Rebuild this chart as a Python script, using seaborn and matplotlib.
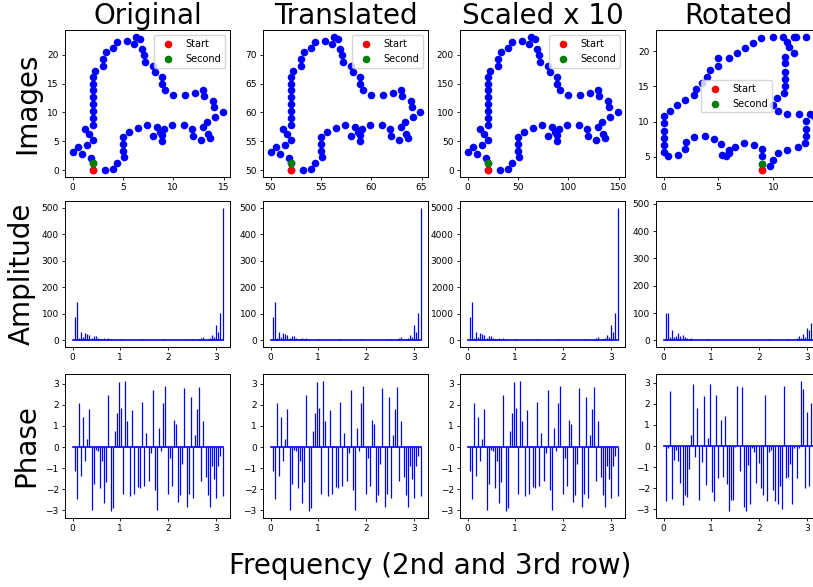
import numpy as np
import matplotlib
matplotlib.use("Agg")
import matplotlib.pyplot as plt
import seaborn as sns

# ---------------- data ----------------
titles = ["Original", "Translated", "Scaled x 10", "Rotated"]
row_labels = ["Images", "Amplitude", "Phase"]

orig_x = [2.0, 2.0, 1.8, 0.96, 0.0, 0.5, 1.4, 2.0, 1.65, 1.2,
          2.0, 2.0, 2.0, 2.0, 2.0, 2.0, 2.0, 2.0, 2.2,
          3.05, 3.0, 3.3, 4.05, 4.4, 5.4, 6.1, 6.3, 6.7, 6.95, 7.1, 7.2, 8.0, 8.15,
          8.9, 8.9, 9.2, 10.0, 11.2, 12.2, 13.0, 13.1, 13.95, 14.05, 14.9, 14.2,
          13.4, 13.0, 13.5, 13.7, 12.8, 12.0, 11.9, 11.1, 9.9, 9.1, 8.9, 8.9, 8.7,
          8.4, 8.0, 7.4, 6.5, 5.6, 5.05, 5.05, 5.05, 5.1, 4.4, 4.0, 3.25]
orig_y = [0.0, 1.2, 2.2, 2.9, 3.2, 4.0, 4.4, 5.3, 6.3, 7.1,
          7.9, 9.1, 10.3, 11.5, 12.6, 13.8, 15.0, 16.2, 17.2,
          18.0, 19.2, 20.4, 21.2, 22.1, 22.4, 21.8, 23.1, 22.7, 21.0, 20.0, 18.8, 18.0, 17.0,
          16.1, 14.9, 13.9, 13.1, 13.1, 13.3, 13.9, 12.8, 11.9, 10.9, 10.0, 9.2,
          8.4, 7.5, 6.3, 5.6, 5.2, 6.0, 7.1, 7.8, 7.8, 7.1, 6.1, 5.1, 6.7,
          7.5, 5.9, 7.8, 7.4, 6.6, 5.7, 4.6, 3.4, 2.3, 1.35, 0.2, 0.0]

translate_offset = 50
scale_factor = 10

rot_x = [9.0, 9.0, 9.0, 8.95, 8.2, 7.3, 6.5, 6.0, 6.0, 5.65, 5.3, 5.2, 4.55, 3.75,
         2.75, 2.05, 2.0, 1.3, 0.4, 0.0, 0.0, 0.0, 0.0, 0.0, 0.0, 0.6, 1.25, 2.0,
         2.75, 3.0, 3.5, 4.0, 4.25, 5.0, 5.0, 6.0, 6.7, 7.45, 8.15, 8.9, 9.95, 10.9,
         11.2, 11.45, 11.9, 12.1, 11.85, 13.0, 11.1, 11.05, 11.05, 11.05, 11.05, 11.0,
         10.3, 9.95, 10.4, 11.25, 12.35, 13.35, 13.65, 13.0, 13.0, 13.0, 12.9, 12.2,
         11.25, 10.45, 10.0, 9.7]
rot_y = [3.07, 4.0, 5.1, 6.1, 6.7, 7.0, 6.45, 6.0, 5.6, 5.05, 5.3, 6.75, 7.5, 8.0,
         7.8, 7.1, 6.1, 5.3, 5.05, 5.7, 6.6, 7.7, 8.7, 9.8, 10.8, 11.5, 12.3, 13.0,
         13.8, 14.6, 15.5, 16.3, 17.3, 17.9, 19.0, 19.0, 19.7, 20.5, 21.2, 21.9, 22.05, 22.05,
         21.3, 20.6, 22.05, 22.05, 19.8, 22.05, 19.2, 18.3, 17.1, 16.0, 15.0, 14.0,
         13.3, 12.4, 11.5, 11.0, 11.0, 11.0, 10.75, 10.1, 9.0, 7.9, 6.9, 6.35,
         6.0, 5.5, 4.6, 3.75]

n_freq = 72
freq = np.linspace(0, np.pi, n_freq)

orig_amp = ([0, 87, 145, 8, 32, 13, 26, 23, 19, 8, 17, 17, 9, 5, 5, 8, 6, 8, 4]
            + [2, 2, 2, 2, 4, 2, 1, 1, 2, 1, 1, 1, 1, 1, 4, 1, 1, 1, 1, 1,
               1, 1, 1, 1, 4, 1, 1, 1, 1, 1, 1, 2, 2, 2]
            + [2, 2, 4, 2, 4, 2, 3, 6, 8, 12, 3, 5, 10, 22, 14, 58, 32, 103, 500])

rot_amp = ([0, 101, 102, 12, 37, 12, 16, 26, 16, 20, 12, 7, 5, 7, 3]
           + [2, 2, 2, 2, 2, 2, 5, 2, 1, 1, 1, 1, 1, 1, 1, 1, 1, 1, 1, 1,
              1, 1, 1, 1, 1, 1, 1, 1, 1, 1, 1, 1, 1, 1, 2]
           + [4, 1.5, 1.5, 2, 2, 3, 2, 3, 2, 5, 3, 2, 3, 7, 15, 9, 22, 12, 44, 38, 62, 486])

orig_phase = ([0.0]
              + [-1.15, -2.45, 2.1, -1.35, 1.4, -0.65, 0.4, 1.78, -3.0, -1.75,
                 -0.15, -0.2, -1.95, -0.65, -2.65, -1.65, 2.45, -3.05, -2.9, 0.75,
                 1.6, 3.1, 1.85, -2.2, 3.15, 1.25, -2.3, 1.75]
              + [-2.2, 0.05, -1.9, -1.95, 2.15, -1.85, 0.65, -1.6, -0.3, 2.7,
                 -2.05, -3.0, 0.9, -0.2, 2.1, 2.9, -2.2, -0.5, -1.85, 1.3,
                 1.1, -2.6, -2.25, -0.8, 2.8, -2.85, -2.2, 2.35, -2.4, 0.55,
                 1.8, 2.85, -1.6, 1.25, -1.4, -2.25, -2.85, -0.9, -1.5, -2.4,
                 -0.9, -0.4, -2.3])

rot_phase = ([0.0, -2.6, -0.1, 2.6, -2.5, -0.65, -0.2, -0.7, -1.75, -2.8,
              -2.3, -2.4, -1.1, 0.5, 2.95, -0.5, 1.8, -2.55, -0.75, 2.35,
              -1.85, 0.4, 2.95, -2.2, -2.6, 2.4, -1.5, 1.25, -1.45, 1.4,
              -1.8, -3.1]
             + [-2.55, -2.55, -0.05, 2.85, -1.2, 2.8, -2.9, -3.1, -0.9, -2.75,
                -0.1, -0.3, -1.75, -0.8, -2.0, -2.3, 2.4, -2.6, -0.3, -0.2,
                -2.1, -2.6, -2.75, -1.9, -3.0, 2.85, -1.5, -1.45, -0.85, -2.75,
                -0.1, -1.5, -0.1, 3.1, 2.7, -2.0, 1.6, -1.9, 2.05, -1.1])

# ---------------- derived series for each column ----------------
ox, oy = np.array(orig_x), np.array(orig_y)
shapes = [(ox, oy),
          (ox + translate_offset, oy + translate_offset),
          (ox * scale_factor, oy * scale_factor),
          (np.array(rot_x), np.array(rot_y))]
amps = [np.array(orig_amp), np.array(orig_amp),
        np.array(orig_amp) * scale_factor, np.array(rot_amp)]
phases = [orig_phase, orig_phase, orig_phase, rot_phase]

# ---------------- figure ----------------
W, H = 813, 587
fig = plt.figure(figsize=(W / 100, H / 100), dpi=100)
col_left = [65, 263, 460, 656]
col_w = 165
row_tb = [(30, 177), (201, 347), (374, 518)]


def make_ax(c, r):
    t, b = row_tb[r]
    ax = fig.add_axes([col_left[c] / W, 1 - b / H, col_w / W, (b - t) / H])
    ax.tick_params(labelsize=6.5, length=2.5, width=0.6, pad=2)
    for sp in ax.spines.values():
        sp.set_linewidth(0.7)
    return ax


def draw_stem(ax, f, v):
    markers, stems, base = ax.stem(f, v, linefmt="b-", markerfmt=" ", basefmt="b-")
    plt.setp(stems, linewidth=0.9)
    plt.setp(base, linewidth=1.2)


for c in range(4):
    sx, sy = shapes[c]
    ax = make_ax(c, 0)
    sns.scatterplot(x=sx, y=sy, color="blue", s=30, linewidth=0, ax=ax)
    sns.scatterplot(x=[sx[0]], y=[sy[0]], color="red", s=30, linewidth=0,
                    label="Start", ax=ax)
    sns.scatterplot(x=[sx[1]], y=[sy[1]], color="green", s=30, linewidth=0,
                    label="Second", ax=ax)
    if c < 3:
        ax.legend(fontsize=7, loc="upper right")
    else:
        ax.legend(fontsize=7, loc="center", bbox_to_anchor=(0.49, 0.55))
    ax.set_title(titles[c], fontsize=20, pad=4)
    if c == 0:
        ax.set_ylabel(row_labels[0], fontsize=20)

    ax2 = make_ax(c, 1)
    draw_stem(ax2, freq, amps[c])
    if c == 0:
        ax2.set_ylabel(row_labels[1], fontsize=20)

    ax3 = make_ax(c, 2)
    draw_stem(ax3, freq, np.array(phases[c]))
    ax3.set_yticks([-3, -2, -1, 0, 1, 2, 3])
    if c == 0:
        ax3.set_ylabel(row_labels[2], fontsize=20)

fig.text(430 / W, 1 - 566 / H, "Frequency (2nd and 3rd row)", fontsize=20,
         ha="center", va="center")

fig.savefig("out.png", dpi=100)
